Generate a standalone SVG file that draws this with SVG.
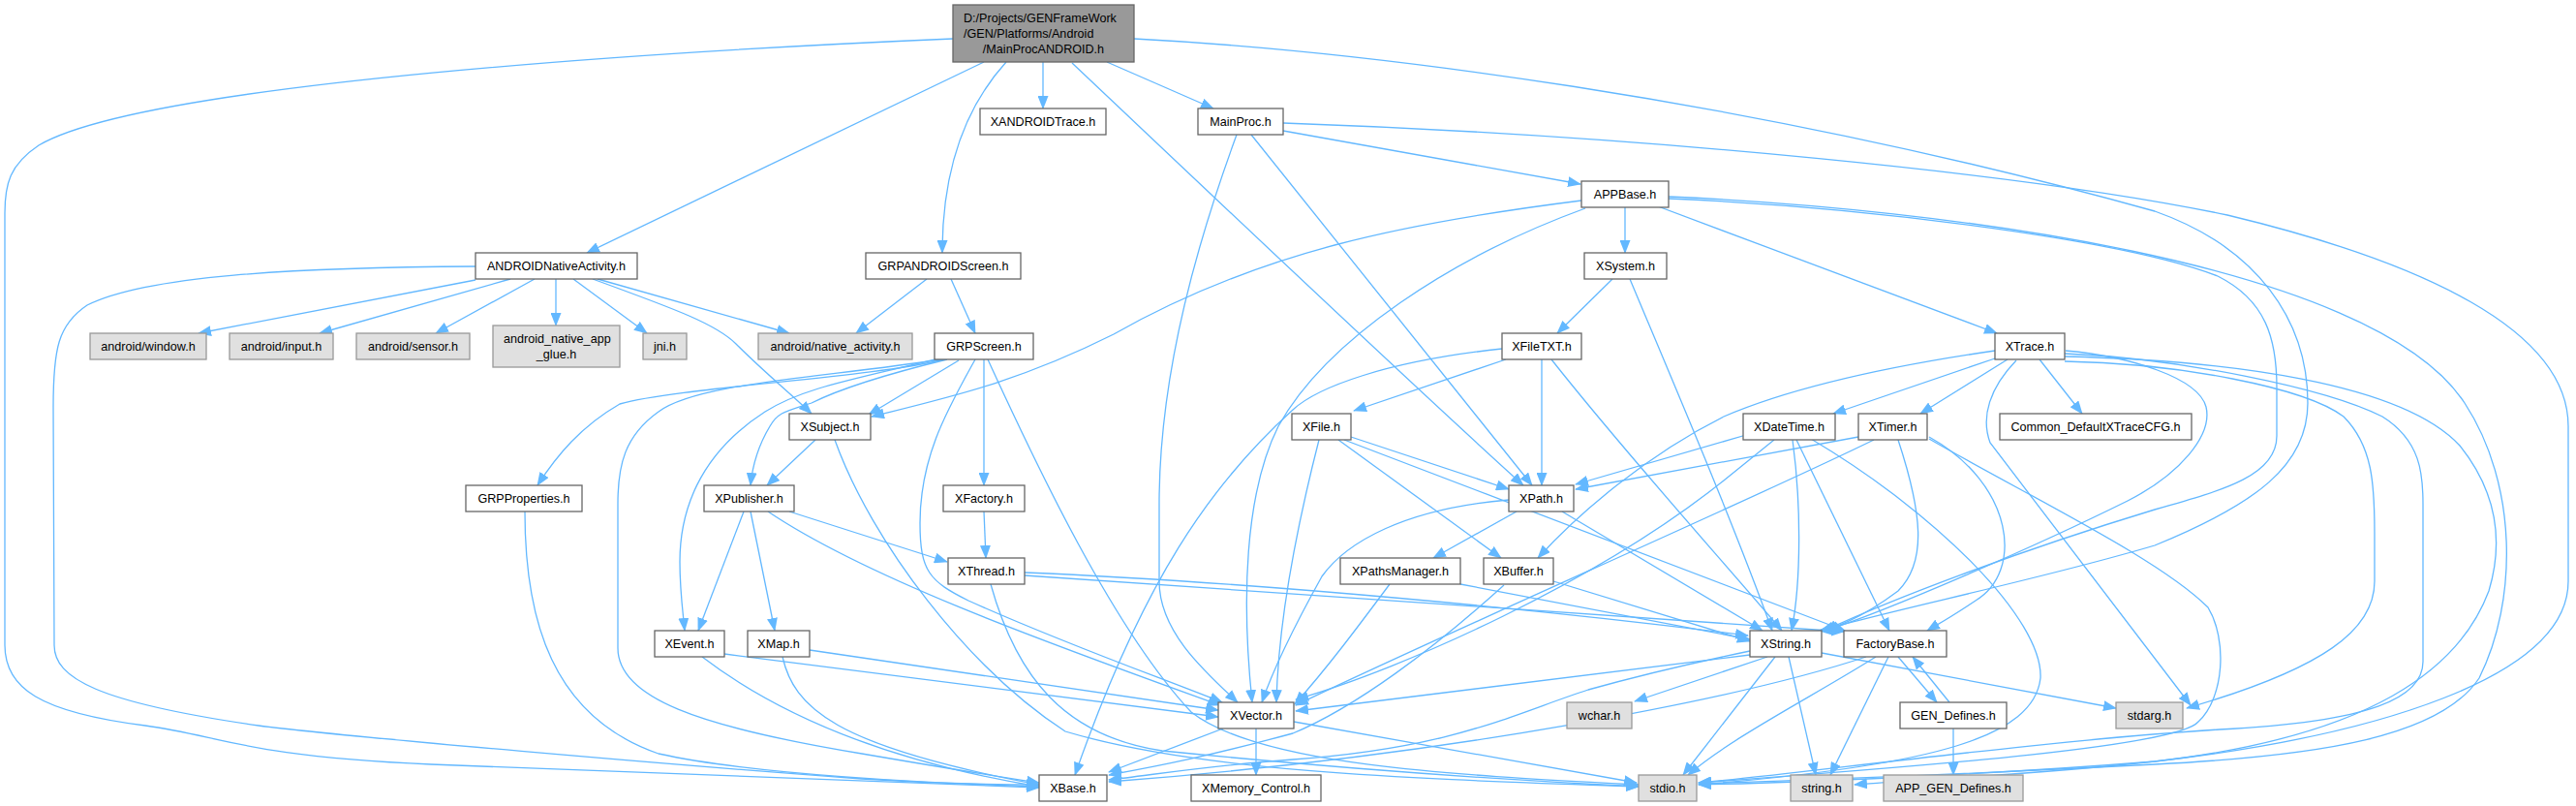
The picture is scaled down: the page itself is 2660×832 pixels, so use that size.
<svg xmlns="http://www.w3.org/2000/svg" width="2660" height="832" viewBox="0 0 2660 832">
<style>
.n rect{fill:#fff;stroke:#666;stroke-width:1.3}
.x rect{fill:#e0e0e0;stroke:#999;stroke-width:1.3}
.r rect{fill:#999;stroke:#666;stroke-width:1.3}
text{font-family:"Liberation Sans",Arial,sans-serif;font-size:12.6px;fill:#000;text-anchor:middle}
.l{text-anchor:start}
#edges path{fill:none;stroke:#63b8ff;stroke-width:1.3;marker-end:url(#a)}
</style>
<defs>
<marker id="a" markerWidth="14" markerHeight="11" refX="13" refY="5.5" orient="auto" markerUnits="userSpaceOnUse"><path d="M0,0 L14,5.5 L0,11 z" fill="#63b8ff"/></marker>
</defs>
<rect width="2660" height="832" fill="#fff"/>
<g id="edges">
<path d="M1016,64 L606,261"/>
<path d="M1077,64 L1077,112"/>
<path d="M1039,64 C1000,107 973,170 973,261"/>
<path d="M1143,64 L1253,112"/>
<path d="M1107,65 C1250,200 1450,390 1573,501"/>
<path d="M1171,40 C1400,52 1800,100 2225,218 C2330,255 2383,330 2383,416 C2383,480 2330,520 2225,563 C2100,600 1950,630 1880,651"/>
<path d="M984,40 C700,52 150,85 40,150 C10,170 5,190 5,220 L5,666 C5,710 40,735 150,749 C230,760 250,780 445,789 C700,800 900,808 1073,813"/>
<path d="M491,289 L205,344"/>
<path d="M527,288 L330,344"/>
<path d="M552,288 L450,344"/>
<path d="M574,288 L574,336"/>
<path d="M592,288 L668,344"/>
<path d="M617,288 L815,344"/>
<path d="M612,288 C700,320 740,335 760,355 C790,385 815,405 838,427"/>
<path d="M491,275 C300,276 150,285 90,315 C60,335 55,360 55,420 L56,666 C56,700 100,725 267,749 C350,760 700,790 890,804 C950,808 1020,810 1073,810"/>
<path d="M957,288 L884,344"/>
<path d="M982,288 L1007,344"/>
<path d="M975,371 C900,390 700,400 640,417 C600,440 575,470 555,501"/>
<path d="M972,371 C850,390 720,395 680,425 C645,450 638,480 638,520 L638,669 C638,720 720,750 890,778 C960,790 1020,800 1073,808"/>
<path d="M970,370 C880,392 830,400 790,425 C720,470 702,530 702,580 C702,610 705,630 707,651"/>
<path d="M990,372 L897,428"/>
<path d="M978,371 C900,390 860,405 838,416 C810,425 803,426 795,440 C783,460 777,480 775,501"/>
<path d="M1007,371 C980,420 950,470 950,540 C950,590 960,600 1000,620 C1100,665 1200,700 1262,725"/>
<path d="M1016,371 L1016,501"/>
<path d="M1020,371 C1070,480 1150,650 1230,735 C1300,790 1500,800 1692,810"/>
<path d="M1325,135 L1632,190"/>
<path d="M1292,139 L1582,501"/>
<path d="M1277,139 C1240,240 1197,380 1197,520 L1197,600 C1197,650 1240,690 1278,725"/>
<path d="M1325,127 C1700,140 2100,180 2300,222 C2500,270 2652,340 2652,440 L2652,600 C2652,700 2450,760 2225,786 C2050,800 1850,808 1754,810"/>
<path d="M1678,214 L1678,261"/>
<path d="M1712,213 L2062,344"/>
<path d="M1633,207 C1450,230 1300,260 1150,345 C1050,395 980,410 900,430"/>
<path d="M1637,215 C1500,265 1370,350 1320,440 C1285,510 1282,620 1293,725"/>
<path d="M1723,205 C1950,215 2200,250 2290,285 C2340,310 2351,350 2351,400 L2351,450 C2351,490 2300,505 2225,526 C2080,570 1950,620 1884,651"/>
<path d="M1723,203 C2000,215 2450,270 2545,416 C2600,500 2600,620 2560,700 C2520,760 2400,780 2225,789 C2050,798 1850,806 1754,809"/>
<path d="M1665,288 L1608,344"/>
<path d="M1683,288 C1730,400 1790,540 1830,651"/>
<path d="M1555,371 L1398,424"/>
<path d="M1592,371 L1592,501"/>
<path d="M1602,371 C1680,470 1780,580 1840,651"/>
<path d="M1551,360 C1430,373 1360,400 1335,423 C1250,500 1180,600 1110,800"/>
<path d="M2060,370 L1893,427"/>
<path d="M2073,371 L1983,427"/>
<path d="M2106,371 L2150,427"/>
<path d="M2060,362 C1950,378 1850,400 1780,430 C1700,470 1630,530 1588,576"/>
<path d="M2082,372 C2055,400 2045,430 2055,457 L2262,728"/>
<path d="M2133,362 C2200,368 2270,390 2278,420 C2285,450 2250,490 2197,517 C2100,565 1950,630 1885,651"/>
<path d="M2132,373 C2250,375 2380,400 2420,430 C2450,460 2452,500 2452,550 L2452,600 C2452,650 2400,690 2258,731"/>
<path d="M2132,365 C2250,370 2400,400 2460,430 C2500,455 2502,490 2502,520 L2502,683 C2502,720 2450,745 2292,753 C2100,765 1850,800 1754,808"/>
<path d="M2132,368 C2300,372 2480,395 2540,460 C2580,510 2585,560 2570,610 C2540,690 2450,760 2225,786 C2100,800 1960,806 1915,810"/>
<path d="M842,454 L792,501"/>
<path d="M862,454 C900,560 1000,690 1100,755 C1250,800 1500,805 1692,812"/>
<path d="M768,528 L721,651"/>
<path d="M775,528 L800,651"/>
<path d="M815,528 L978,580"/>
<path d="M793,528 C900,600 1100,670 1260,728"/>
<path d="M748,675 L1258,740"/>
<path d="M725,678 C780,720 880,780 1073,812"/>
<path d="M836,671 L1258,733"/>
<path d="M808,678 C820,730 860,770 1073,810"/>
<path d="M542,528 C542,640 570,740 680,778 C780,800 950,808 1073,812"/>
<path d="M1016,528 L1018,576"/>
<path d="M1058,591 C1300,601 1600,630 1805,656"/>
<path d="M1058,594 C1300,612 1600,632 1904,652"/>
<path d="M1023,603 C1050,700 1100,760 1200,775 C1400,795 1550,805 1692,812"/>
<path d="M1263,752 L1145,797"/>
<path d="M1297,752 L1297,800"/>
<path d="M1336,745 L1690,808"/>
<path d="M1807,676 L1338,734"/>
<path d="M1825,678 L1688,724"/>
<path d="M1833,678 L1738,800"/>
<path d="M1847,678 L1875,800"/>
<path d="M1881,674 L2185,731"/>
<path d="M1807,672 C1730,688 1690,698 1640,712 C1560,738 1500,772 1335,784 C1250,790 1190,800 1145,805"/>
<path d="M1960,678 L2000,725"/>
<path d="M2013,725 L1975,678"/>
<path d="M2017,752 L2017,800"/>
<path d="M1950,678 L1890,800"/>
<path d="M1937,678 C1870,720 1790,760 1743,800"/>
<path d="M1927,678 C1800,720 1500,780 1145,807"/>
<path d="M1566,528 L1480,576"/>
<path d="M1558,516 C1450,525 1390,560 1365,595 C1340,640 1315,690 1303,725"/>
<path d="M1613,528 L1820,651"/>
<path d="M1395,451 L1558,505"/>
<path d="M1382,454 L1550,576"/>
<path d="M1362,454 C1340,540 1320,640 1318,725"/>
<path d="M1388,454 L1905,651"/>
<path d="M1435,603 C1400,650 1370,690 1337,727"/>
<path d="M1508,603 L1807,660"/>
<path d="M1604,600 L1807,662"/>
<path d="M1553,604 C1480,670 1400,730 1335,757 C1250,780 1200,790 1145,800"/>
<path d="M1803,449 L1627,500"/>
<path d="M1832,454 L1780,496 C1650,600 1450,690 1338,722"/>
<path d="M1851,454 C1860,520 1860,600 1850,651"/>
<path d="M1855,454 L1951,651"/>
<path d="M1870,453 C2000,530 2110,640 2107,700 C2100,760 2000,790 1754,810"/>
<path d="M1919,451 L1627,505"/>
<path d="M1935,454 C1800,520 1500,650 1338,728"/>
<path d="M1960,454 C1985,530 1990,580 1960,610 C1920,640 1890,650 1878,651"/>
<path d="M1992,451 C2080,500 2090,590 2040,620 C2010,640 2000,645 1990,651"/>
<path d="M1992,453 C2100,515 2230,577 2280,627 C2300,660 2297,720 2270,745 C2250,770 2000,790 1754,808"/>
</g>
<g id="n_root" class="r"><rect x="984" y="5" width="187" height="59"/><text class="l" x="995" y="22.5">D:/Projects/GENFrameWork</text><text class="l" x="995" y="38.5">/GEN/Platforms/Android</text><text x="1077.5" y="54.5">/MainProcANDROID.h</text></g>
<g id="n_xandroidtrace" class="n"><rect x="1012" y="112" width="130" height="27"/><text x="1077" y="130">XANDROIDTrace.h</text></g>
<g id="n_mainproc" class="n"><rect x="1237" y="112" width="88" height="27"/><text x="1281" y="130">MainProc.h</text></g>
<g id="n_appbase" class="n"><rect x="1633" y="187" width="90" height="27"/><text x="1678" y="205">APPBase.h</text></g>
<g id="n_ana" class="n"><rect x="491" y="261" width="167" height="27"/><text x="574.5" y="279">ANDROIDNativeActivity.h</text></g>
<g id="n_grpandroidscreen" class="n"><rect x="894" y="261" width="160" height="27"/><text x="974" y="279">GRPANDROIDScreen.h</text></g>
<g id="n_xsystem" class="n"><rect x="1636" y="261" width="85" height="27"/><text x="1678.5" y="279">XSystem.h</text></g>
<g id="n_window" class="x"><rect x="93" y="344" width="120" height="27"/><text x="153" y="362">android/window.h</text></g>
<g id="n_input" class="x"><rect x="237" y="344" width="107" height="27"/><text x="290.5" y="362">android/input.h</text></g>
<g id="n_sensor" class="x"><rect x="368" y="344" width="117" height="27"/><text x="426.5" y="362">android/sensor.h</text></g>
<g id="n_glue" class="x"><rect x="509" y="336" width="131" height="43"/><text class="l" x="520" y="354">android_native_app</text><text x="574.5" y="370">_glue.h</text></g>
<g id="n_jni" class="x"><rect x="664" y="344" width="45" height="27"/><text x="686.5" y="362">jni.h</text></g>
<g id="n_nativeactivity" class="x"><rect x="783" y="344" width="159" height="27"/><text x="862.5" y="362">android/native_activity.h</text></g>
<g id="n_grpscreen" class="n"><rect x="965" y="344" width="102" height="27"/><text x="1016" y="362">GRPScreen.h</text></g>
<g id="n_xfiletxt" class="n"><rect x="1551" y="344" width="82" height="27"/><text x="1592" y="362">XFileTXT.h</text></g>
<g id="n_xtrace" class="n"><rect x="2060" y="344" width="72" height="27"/><text x="2096" y="362">XTrace.h</text></g>
<g id="n_xsubject" class="n"><rect x="815" y="427" width="84" height="27"/><text x="857" y="445">XSubject.h</text></g>
<g id="n_xfile" class="n"><rect x="1334" y="427" width="61" height="27"/><text x="1364.5" y="445">XFile.h</text></g>
<g id="n_xdatetime" class="n"><rect x="1800" y="427" width="95" height="27"/><text x="1847.5" y="445">XDateTime.h</text></g>
<g id="n_xtimer" class="n"><rect x="1919" y="427" width="71" height="27"/><text x="1954.5" y="445">XTimer.h</text></g>
<g id="n_common" class="n"><rect x="2065" y="427" width="198" height="27"/><text x="2164" y="445">Common_DefaultXTraceCFG.h</text></g>
<g id="n_grpproperties" class="n"><rect x="481" y="501" width="120" height="27"/><text x="541" y="519">GRPProperties.h</text></g>
<g id="n_xpublisher" class="n"><rect x="727" y="501" width="93" height="27"/><text x="773.5" y="519">XPublisher.h</text></g>
<g id="n_xfactory" class="n"><rect x="974" y="501" width="84" height="27"/><text x="1016" y="519">XFactory.h</text></g>
<g id="n_xpath" class="n"><rect x="1558" y="501" width="67" height="27"/><text x="1591.5" y="519">XPath.h</text></g>
<g id="n_xthread" class="n"><rect x="979" y="576" width="79" height="27"/><text x="1018.5" y="594">XThread.h</text></g>
<g id="n_xpathsmanager" class="n"><rect x="1384" y="576" width="124" height="27"/><text x="1446" y="594">XPathsManager.h</text></g>
<g id="n_xbuffer" class="n"><rect x="1532" y="576" width="72" height="27"/><text x="1568" y="594">XBuffer.h</text></g>
<g id="n_xevent" class="n"><rect x="676" y="651" width="72" height="27"/><text x="712" y="669">XEvent.h</text></g>
<g id="n_xmap" class="n"><rect x="772" y="651" width="64" height="27"/><text x="804" y="669">XMap.h</text></g>
<g id="n_xstring" class="n"><rect x="1807" y="651" width="74" height="27"/><text x="1844" y="669">XString.h</text></g>
<g id="n_factorybase" class="n"><rect x="1904" y="651" width="106" height="27"/><text x="1957" y="669">FactoryBase.h</text></g>
<g id="n_xvector" class="n"><rect x="1258" y="725" width="78" height="27"/><text x="1297" y="743">XVector.h</text></g>
<g id="n_wchar" class="x"><rect x="1618" y="725" width="67" height="27"/><text x="1651.5" y="743">wchar.h</text></g>
<g id="n_gendefines" class="n"><rect x="1962" y="725" width="110" height="27"/><text x="2017" y="743">GEN_Defines.h</text></g>
<g id="n_stdarg" class="x"><rect x="2185" y="725" width="69" height="27"/><text x="2219.5" y="743">stdarg.h</text></g>
<g id="n_xbase" class="n"><rect x="1073" y="800" width="70" height="27"/><text x="1108" y="818">XBase.h</text></g>
<g id="n_xmemory" class="n"><rect x="1230" y="800" width="134" height="27"/><text x="1297" y="818">XMemory_Control.h</text></g>
<g id="n_stdio" class="x"><rect x="1692" y="800" width="60" height="27"/><text x="1722" y="818">stdio.h</text></g>
<g id="n_string" class="x"><rect x="1849" y="800" width="64" height="27"/><text x="1881" y="818">string.h</text></g>
<g id="n_appgendefines" class="x"><rect x="1945" y="800" width="144" height="27"/><text x="2017" y="818">APP_GEN_Defines.h</text></g>
</svg>
